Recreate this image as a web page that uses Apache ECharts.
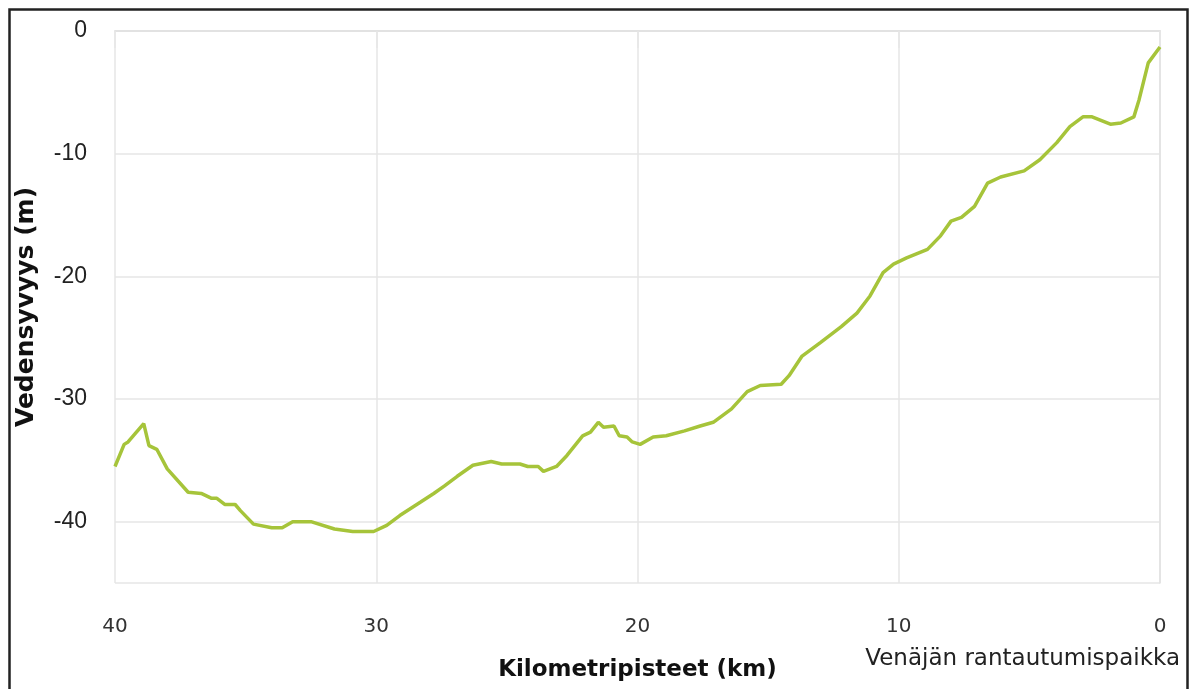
<!DOCTYPE html>
<html>
<head>
<meta charset="utf-8">
<script src="https://cdn.jsdelivr.net/npm/echarts@6/dist/echarts.min.js"></script>
<style>
html,body{margin:0;padding:0;background:#fff;}
#chart{width:1192px;height:689px;}
</style>
</head>
<body>
<div id="chart"></div>
<script>
var km = [40,39.65,39.5,38.9,38.7,38.4,38.0,37.2,36.7,36.3,36.1,35.8,35.4,35.2,34.7,34.0,33.6,33.2,32.5,31.6,30.9,30.1,29.6,29.1,28.3,27.8,27.4,26.9,26.3,25.6,25.2,24.5,24.2,23.8,23.6,23.1,22.7,22.1,21.8,21.5,21.3,20.9,20.7,20.4,20.2,19.9,19.4,18.9,18.2,17.6,17.1,16.4,15.8,15.3,14.5,14.2,13.7,13.0,12.2,11.6,11.1,10.6,10.2,9.7,8.9,8.4,8.0,7.6,7.1,6.6,6.1,5.2,4.6,3.95,3.45,2.95,2.6,1.9,1.5,1.0,0.8,0.45,0.0];
var depth = [-35.5,-33.7,-33.5,-32.0,-33.8,-34.1,-35.7,-37.6,-37.7,-38.1,-38.1,-38.6,-38.6,-39.1,-40.2,-40.5,-40.5,-40.0,-40.0,-40.6,-40.8,-40.8,-40.3,-39.5,-38.4,-37.7,-37.1,-36.3,-35.4,-35.1,-35.3,-35.3,-35.5,-35.5,-35.9,-35.5,-34.6,-33.0,-32.7,-31.9,-32.3,-32.2,-33.0,-33.1,-33.5,-33.7,-33.1,-33.0,-32.6,-32.2,-31.9,-30.8,-29.4,-28.9,-28.8,-28.1,-26.5,-25.4,-24.1,-23.0,-21.6,-19.7,-19.0,-18.5,-17.8,-16.7,-15.5,-15.2,-14.3,-12.4,-11.9,-11.4,-10.5,-9.1,-7.8,-7.0,-7.0,-7.6,-7.5,-7.0,-5.6,-2.6,-1.3];
var xTitle = 'Kilometripisteet (km)';
var yTitle = 'Vedensyvyys (m)';
var endNote = 'Venäjän rantautumispaikka';

var pts = km.map(function(k, i){ return [k, depth[i]]; });
var chart = echarts.init(document.getElementById('chart'));
chart.setOption({
  animation: false,
  backgroundColor: '#ffffff',
  grid: {left: 115, right: 32, top: 31, bottom: 106, containLabel: false},
  xAxis: {
    type: 'value', min: 0, max: 40, interval: 10, inverse: true,
    name: xTitle, nameLocation: 'middle', nameGap: 76,
    nameTextStyle: {fontFamily: 'DejaVu Sans', fontWeight: 'bold', fontSize: 23, color: '#111'},
    axisLine: {show: true, lineStyle: {color: '#e2e2e2', width: 2}},
    axisTick: {show: true, length: 17, lineStyle: {color: '#e6e6e6', width: 1.5}},
    axisLabel: {fontFamily: 'DejaVu Sans', fontSize: 20, color: '#333', margin: 34},
    splitLine: {show: true, lineStyle: {color: '#e6e6e6', width: 1.5}}
  },
  yAxis: {
    type: 'value', min: -45, max: 0,
    name: yTitle, nameLocation: 'middle', nameGap: 76, nameRotate: 90,
    nameTextStyle: {fontFamily: 'DejaVu Sans', fontWeight: 'bold', fontSize: 25, color: '#111'},
    axisLine: {show: true, lineStyle: {color: '#e2e2e2', width: 1.5}},
    axisTick: {show: false},
    axisLabel: {fontFamily: 'Liberation Sans', fontSize: 23, color: '#222', margin: 28, showMinLabel: false},
    splitLine: {show: true, lineStyle: {color: '#e6e6e6', width: 1.5}}
  },
  graphic: [
    {type: 'rect', left: 7, top: 7, shape: {x: 0, y: 0, width: 1178, height: 720},
     style: {fill: 'none', stroke: '#222', lineWidth: 2.5}, silent: true},
    {type: 'text', right: 12, top: 648,
     style: {text: endNote, fontFamily: 'DejaVu Sans', fontSize: 23, fill: '#222'}}
  ],
  series: [{
    type: 'line', data: pts, showSymbol: false, smooth: false,
    lineStyle: {color: '#a6c43a', width: 3.5},
    itemStyle: {color: '#a6c43a'}
  }]
});
</script>
</body>
</html>
